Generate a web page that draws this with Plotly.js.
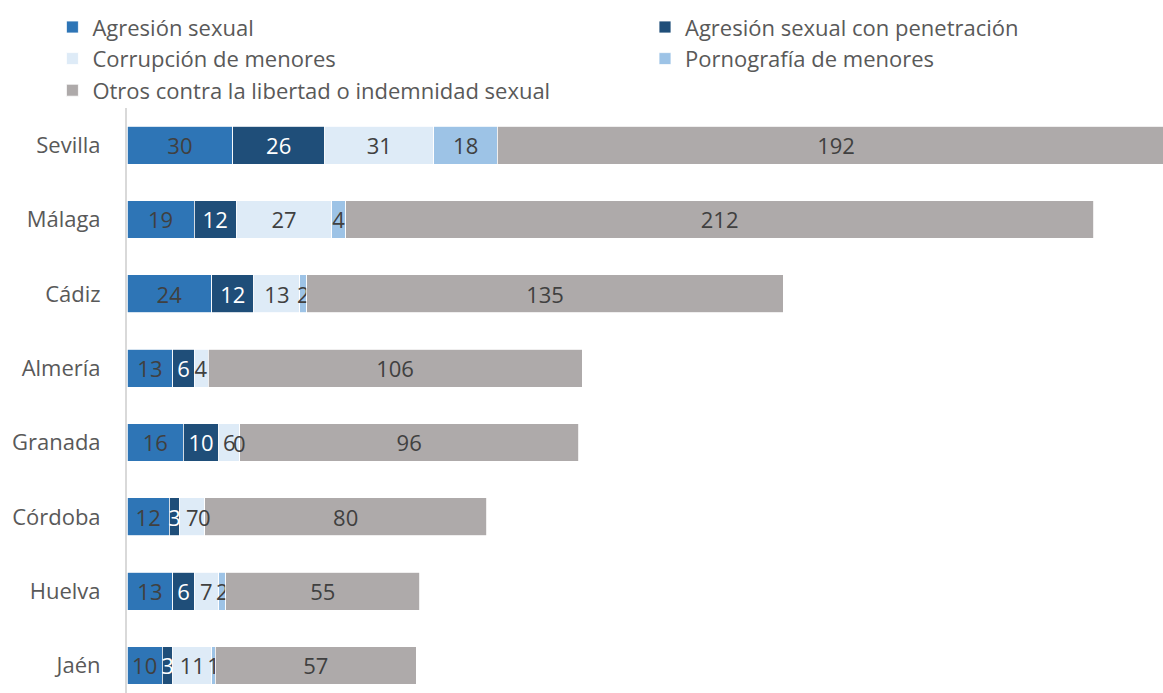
<!DOCTYPE html>
<html>
<head>
<meta charset="utf-8">
<script src="https://cdn.plot.ly/plotly-3.0.1.min.js"></script>
<style>
  html, body { margin: 0; padding: 0; background: #fff; }
  #chart { width: 1163px; height: 693px; }
</style>
</head>
<body>
<div id="chart"></div>
<script>
var provincias = ['Sevilla', 'Málaga', 'Cádiz', 'Almería', 'Granada', 'Córdoba', 'Huelva', 'Jaén'];

var agresion = [30, 19, 24, 13, 16, 12, 13, 10];
var penetracion = [26, 12, 12, 6, 10, 3, 6, 3];
var corrupcion = [31, 27, 13, 4, 6, 7, 7, 11];
var pornografia = [18, 4, 2, null, 0, 0, 2, 1];
var otros = [192, 212, 135, 106, 96, 80, 55, 57];

var nombres = [
  'Agresión sexual',
  'Agresión sexual con penetración',
  'Corrupción de menores',
  'Pornografía de menores',
  'Otros contra la libertad o indemnidad sexual'
];
var colores = ['#2E75B6', '#1F4E79', '#DEEBF7', '#9DC3E6', '#AEAAAA'];
var colorTexto = ['#404040', '#ffffff', '#404040', '#404040', '#404040'];
// left column of the legend holds series 0, 2, 4 and the right one 1, 3
var leyenda = ['legend', 'legend2', 'legend', 'legend2', 'legend'];

var fuente = 'Open Sans, sans-serif';
var series = [agresion, penetracion, corrupcion, pornografia, otros];

function makeTrace(values, i) {
  return {
    type: 'bar',
    orientation: 'h',
    y: provincias,
    x: values,
    name: nombres[i],
    legend: leyenda[i],
    text: values.map(function(v) { return v === null ? '' : String(v); }),
    textposition: 'inside',
    insidetextanchor: 'middle',
    constraintext: 'none',
    textfont: {family: fuente, size: 22, color: colorTexto[i]},
    marker: {color: colores[i], line: {color: '#ffffff', width: 0.8}},
    hoverinfo: 'none'
  };
}

var data = series.map(makeTrace);

// plotly draws no text on zero-width bars, so the "0" labels go in as annotations
var annotations = [];
series.forEach(function(values, i) {
  values.forEach(function(v, j) {
    if (v !== 0) return;
    var base = 0;
    for (var k = 0; k < i; k++) base += series[k][j] || 0;
    annotations.push({
      x: base, y: provincias[j], xref: 'x', yref: 'y',
      text: '0', showarrow: false, xanchor: 'center', yanchor: 'middle',
      font: {family: fuente, size: 22, color: colorTexto[i]}
    });
  });
});

var legendBase = {
  orientation: 'v',
  xanchor: 'left',
  yanchor: 'top',
  y: 1.174,
  traceorder: 'normal',
  font: {family: fuente, size: 22, color: '#595959'},
  itemclick: false,
  bgcolor: 'rgba(0,0,0,0)'
};

var layout = {
  width: 1163,
  height: 693,
  barmode: 'stack',
  bargap: 0.49,
  paper_bgcolor: '#ffffff',
  plot_bgcolor: '#ffffff',
  font: {family: fuente, color: '#595959'},
  margin: {l: 127, r: 0, t: 108, b: 0, pad: 0, autoexpand: false},
  showlegend: true,
  legend: Object.assign({}, legendBase, {x: -0.072}),
  legend2: Object.assign({}, legendBase, {x: 0.5}),
  annotations: annotations,
  xaxis: {
    range: [0, 293.7],
    showgrid: false,
    zeroline: false,
    showticklabels: false,
    showline: false,
    fixedrange: true
  },
  yaxis: {
    categoryorder: 'array',
    categoryarray: provincias,
    range: [7.37, -0.5],
    showgrid: false,
    zeroline: false,
    showline: true,
    linecolor: '#D9D9D9',
    linewidth: 2,
    ticks: '',
    ticklabelstandoff: 20,
    tickfont: {family: fuente, size: 22, color: '#595959'},
    fixedrange: true
  }
};

Plotly.newPlot('chart', data, layout, {displayModeBar: false, staticPlot: true});
</script>
</body>
</html>
